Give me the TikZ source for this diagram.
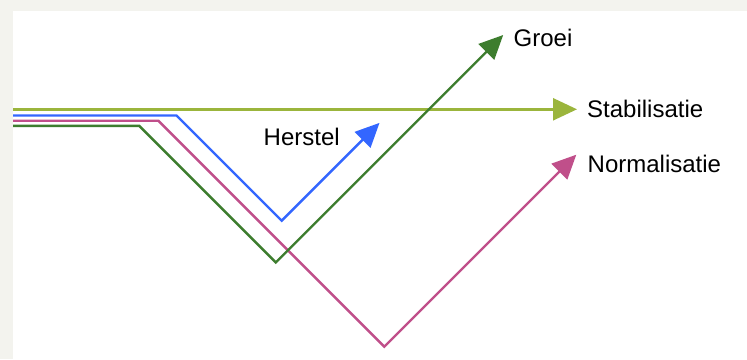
\documentclass[tikz,border=0pt]{standalone}
\usepackage{fontspec}
\setmainfont{Liberation Sans}
\usetikzlibrary{arrows.meta}
\definecolor{bgout}{HTML}{F3F3EE}
\definecolor{colstab}{HTML}{9BB53C}
\definecolor{colher}{HTML}{3366FF}
\definecolor{colnorm}{HTML}{C04F8A}
\definecolor{colgroei}{HTML}{3D7D2E}
\begin{document}
\begin{tikzpicture}[x=1pt,y=-1pt,
  curve/.style={line width=2.4pt,line join=miter,-{Triangle[length=24pt,width=22pt]}},
  lbl/.style={inner sep=0pt,anchor=base west,font=\fontsize{24}{28}\selectfont}]
\fill[bgout] (0,0) rectangle (747,359);
\fill[white] (13,11) rectangle (747,359);
\useasboundingbox (0,0) rectangle (747,359);
% coordinates
\coordinate (s0) at (13,109.3);
\coordinate (s1) at (577,109.3);
\coordinate (h0) at (13,115.5);
\coordinate (h1) at (176.5,115.5);
\coordinate (h2) at (281.7,220.7);
\coordinate (h3) at (379.5,122.9);
\coordinate (n0) at (13,120.7);
\coordinate (n1) at (158.3,120.7);
\coordinate (n2) at (384.3,346.7);
\coordinate (n3) at (576.3,154.7);
\coordinate (g0) at (13,125.8);
\coordinate (g1) at (139.2,125.8);
\coordinate (g2) at (275.8,262.4);
\coordinate (g3) at (503.2,35);
% lines
\draw[curve,colstab] (s0) -- (s1);
\draw[curve,colher] (h0) -- (h1) -- (h2) -- (h3);
\draw[curve,colnorm] (n0) -- (n1) -- (n2) -- (n3);
\draw[curve,colgroei] (g0) -- (g1) -- (g2) -- (g3);
% labels
\node[lbl] (groei) at (513.5,46) {Groei};
\node[lbl] (stab) at (587,117.3) {Stabilisatie};
\node[lbl] (norm) at (587.5,172.3) {Normalisatie};
\node[lbl] (herstel) at (263.5,145.5) {Herstel};
\end{tikzpicture}
\end{document}
